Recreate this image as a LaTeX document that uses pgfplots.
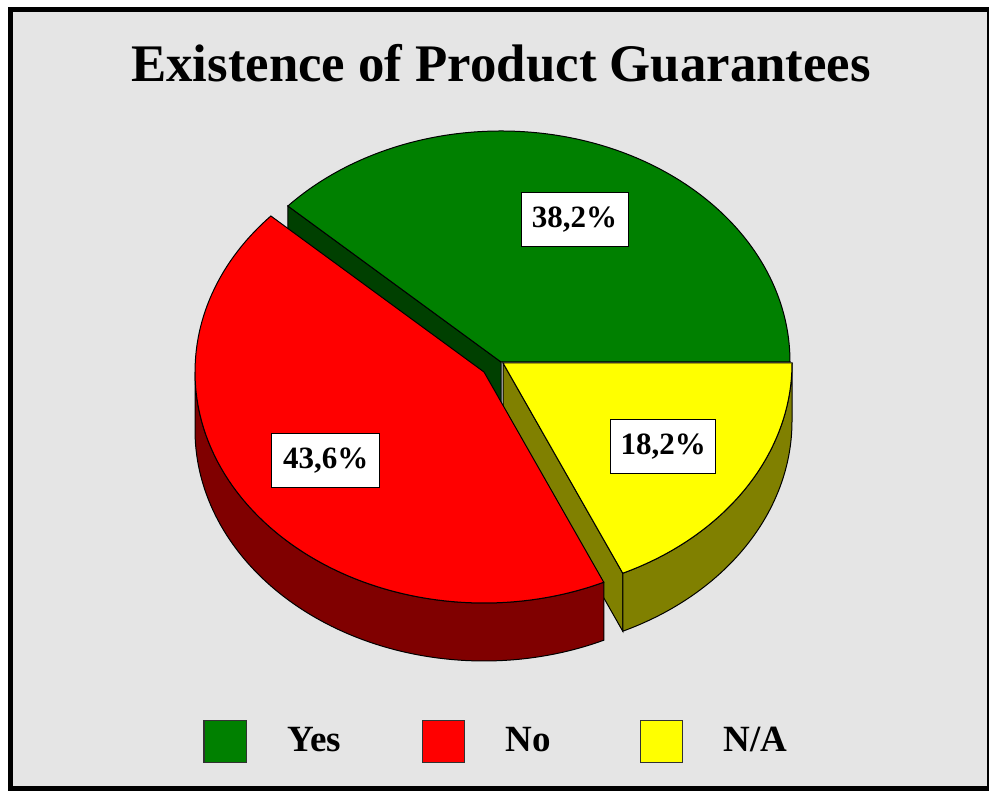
\documentclass[border=0pt]{standalone}
\usepackage{pgfplots}
\pgfplotsset{compat=1.18}
\usepackage{fontspec}
\setmainfont{Liberation Serif}
\definecolor{bg}{RGB}{229,229,229}
\definecolor{cGreen}{RGB}{0,128,0}
\definecolor{cGreenD}{RGB}{0,64,0}
\definecolor{cRed}{RGB}{255,0,0}
\definecolor{cRedD}{RGB}{128,0,0}
\definecolor{cYel}{RGB}{255,255,0}
\definecolor{cYelD}{RGB}{128,128,0}
\definecolor{edgeGray}{RGB}{50,50,50}
% data (percent)
\def\vYes{38.2}
\def\vNo{43.6}
\def\vNA{18.2}
\pgfmathsetmacro\aA{0}
\pgfmathsetmacro\aB{360*\vYes/100}
\pgfmathsetmacro\aC{\aB+360*\vNo/100}
\pgfmathsetmacro\aD{\aC+360*\vNA/100}
% geometry (axis units = px)
\def\ra{289}\def\rb{231}
\def\rx{144.5pt}\def\ry{115.5pt}\def\dep{29pt}
% centres
\def\Gx{501}\def\Gy{429}
\def\Yx{503}\def\Yy{428}
\def\Rx{484}\def\Ry{419}
\pgfmathsetmacro\GBx{\Gx+\ra*cos(\aB)}\pgfmathsetmacro\GBy{\Gy+\rb*sin(\aB)}
\pgfmathsetmacro\YCx{\Yx+\ra*cos(\aC)}\pgfmathsetmacro\YCy{\Yy+\rb*sin(\aC)}
\pgfmathsetmacro\RBx{\Rx+\ra*cos(\aB)}\pgfmathsetmacro\RBy{\Ry+\rb*sin(\aB)}
\pgfmathsetmacro\RLx{\Rx-\ra}
\pgfmathsetmacro\GAx{\Gx+\ra}
\begin{document}
\begin{tikzpicture}
\begin{axis}[x=0.5pt, y=0.5pt, xmin=0, xmax=989, ymin=0, ymax=791, hide axis, clip=false]
% frame
\fill[white] (axis cs:0,0) rectangle (axis cs:989,791);
\fill[black] (axis cs:8,0) rectangle (axis cs:989,784);
\fill[bg] (axis cs:13,5) rectangle (axis cs:987,779);
% title
\node[anchor=base, font=\bfseries\fontsize{26.4}{30}\selectfont] at (axis cs:501,709) {Existence of Product Guarantees};
% green cut face
\filldraw[fill=cGreenD, draw=black, line width=0.5pt] (axis cs:\Gx,\Gy) -- (axis cs:\GBx,\GBy) -- ++(0,-\dep) -- ([yshift=-\dep]axis cs:\Gx,\Gy) -- cycle;
% green top
\filldraw[fill=cGreen, draw=black, line width=0.5pt] (axis cs:\Gx,\Gy) -- (axis cs:\GAx,\Gy) arc[start angle=\aA, end angle=\aB, x radius=\rx, y radius=\ry] -- cycle;
% yellow cut face
\filldraw[fill=cYelD, draw=black, line width=0.5pt] (axis cs:\Yx,\Yy) -- (axis cs:\YCx,\YCy) -- ++(0,-\dep) -- ([yshift=-\dep]axis cs:\Yx,\Yy) -- cycle;
% yellow outer side
\filldraw[fill=cYelD, draw=black, line width=0.5pt] (axis cs:\YCx,\YCy) arc[start angle=\aC, end angle=\aD, x radius=\rx, y radius=\ry] -- ++(0,-\dep) arc[start angle=\aD, end angle=\aC, x radius=\rx, y radius=\ry] -- cycle;
% yellow top
\filldraw[fill=cYel, draw=black, line width=0.5pt] (axis cs:\Yx,\Yy) -- (axis cs:\YCx,\YCy) arc[start angle=\aC, end angle=\aD, x radius=\rx, y radius=\ry] -- cycle;
% red outer side
\filldraw[fill=cRedD, draw=black, line width=0.5pt] (axis cs:\RLx,\Ry) arc[start angle=180, end angle=\aC, x radius=\rx, y radius=\ry] -- ++(0,-\dep) arc[start angle=\aC, end angle=180, x radius=\rx, y radius=\ry] -- cycle;
% red top
\filldraw[fill=cRed, draw=black, line width=0.5pt] (axis cs:\Rx,\Ry) -- (axis cs:\RBx,\RBy) arc[start angle=\aB, end angle=\aC, x radius=\rx, y radius=\ry] -- cycle;
% value labels
\tikzset{vlab/.style={draw=black, line width=0.5pt, fill=white, font=\bfseries\fontsize{15.5}{18}\selectfont, minimum height=27pt, inner sep=0pt}}
\node[vlab, minimum width=53.5pt] at (axis cs:574.5,571.3) {38,2\%};
\node[vlab, minimum width=54pt] at (axis cs:325.8,330.7) {43,6\%};
\node[vlab, minimum width=52.5pt] at (axis cs:663.3,344.3) {18,2\%};
% legend
\filldraw[fill=cGreen, draw=edgeGray, line width=0.6pt] (axis cs:204,28.7) rectangle (axis cs:246.7,70.3);
\filldraw[fill=cRed, draw=edgeGray, line width=0.6pt] (axis cs:422.3,28.7) rectangle (axis cs:464.3,70.3);
\filldraw[fill=cYel, draw=edgeGray, line width=0.6pt] (axis cs:640.3,28.7) rectangle (axis cs:682.3,70.3);
\tikzset{ltxt/.style={anchor=base west, inner sep=0pt, font=\bfseries\fontsize{18.5}{21}\selectfont}}
\node[ltxt] at (axis cs:287,39) {Yes};
\node[ltxt] at (axis cs:505,39) {No};
\node[ltxt] at (axis cs:723,39) {N/A};
\end{axis}
\end{tikzpicture}
\end{document}
